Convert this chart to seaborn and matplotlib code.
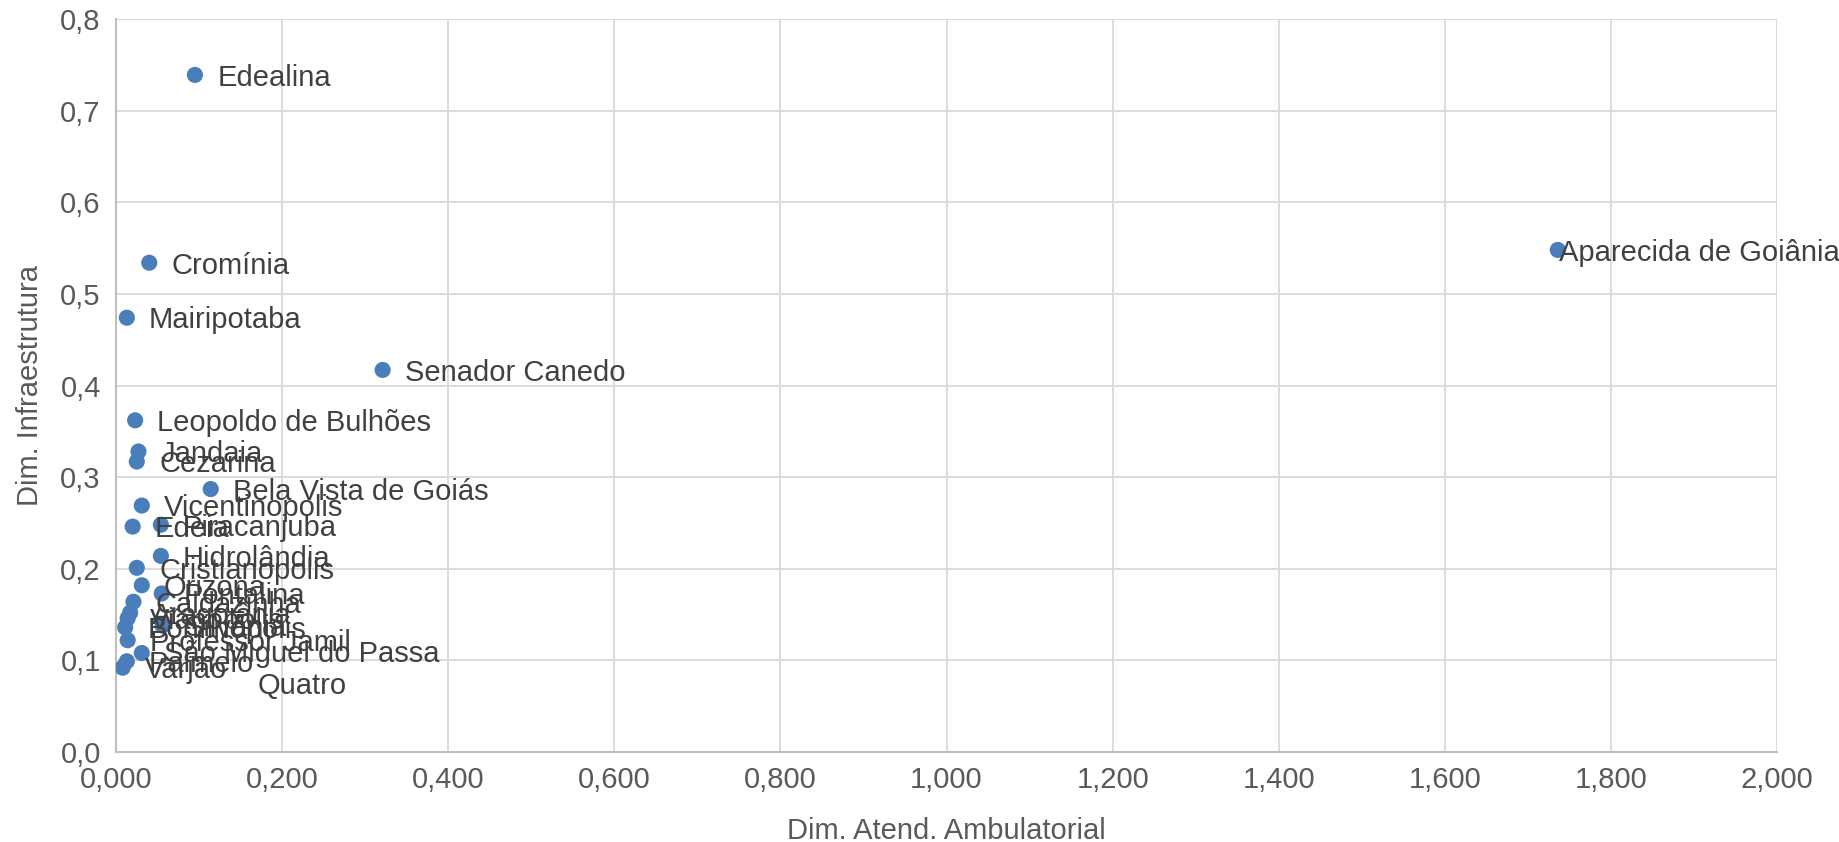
import pandas as pd
import seaborn as sns
import matplotlib.pyplot as plt

# dados
municipios = ["Edealina", "Cromínia", "Mairipotaba", "Senador Canedo", "Aparecida de Goiânia",
              "Leopoldo de Bulhões", "Jandaia", "Cezarina", "Bela Vista de Goiás", "Vicentinopolis",
              "Piracanjuba", "Edeia", "Hidrolândia", "Cristianopolis", "Orizona",
              "Pontalina", "Caldazinha", "Aragoiânia", "Vianópolis", "Silvânia",
              "Bonfinópolis", "Professor Jamil", "São Miguel do Passa\nQuatro", "Palmelo", "Varjão"]
atend_ambulatorial = [0.095, 0.040, 0.013, 0.321, 1.736,
                      0.023, 0.027, 0.025, 0.114, 0.031,
                      0.054, 0.020, 0.054, 0.025, 0.031,
                      0.055, 0.021, 0.017, 0.014, 0.056,
                      0.011, 0.014, 0.031, 0.013, 0.008]
infraestrutura = [0.739, 0.534, 0.474, 0.417, 0.548,
                  0.362, 0.328, 0.317, 0.287, 0.269,
                  0.248, 0.246, 0.214, 0.201, 0.182,
                  0.173, 0.164, 0.152, 0.146, 0.138,
                  0.136, 0.122, 0.108, 0.099, 0.092]

x_ticks = [0.0, 0.2, 0.4, 0.6, 0.8, 1.0, 1.2, 1.4, 1.6, 1.8, 2.0]
y_ticks = [0.0, 0.1, 0.2, 0.3, 0.4, 0.5, 0.6, 0.7, 0.8]

df = pd.DataFrame({"municipio": municipios, "x": atend_ambulatorial, "y": infraestrutura})

sns.set_theme(style="white")
plt.rcParams["font.family"] = ["Liberation Sans", "DejaVu Sans"]

fig = plt.figure(figsize=(18.39, 8.42), dpi=100)
ax = fig.add_axes([0.0631, 0.1069, 0.9032, 0.8705])

sns.scatterplot(data=df, x="x", y="y", ax=ax, color="#4a7ebb", s=135, edgecolor="none", zorder=3)

for _, r in df.iterrows():
    n_lines = r["municipio"].count("\n") + 1
    dx = 16
    if r["x"] > 1.5:
        dx = 1  # rótulo empurrado para dentro, como no Excel
    dy = -2 - (n_lines - 1) * 10.3
    ax.annotate(r["municipio"], (r["x"], r["y"]), xytext=(dx, dy), textcoords="offset points",
                ha="left", va="center", multialignment="center", fontsize=21,
                color="#404040", annotation_clip=False, clip_on=False, zorder=4,
                linespacing=1.17)

ax.set_xlim(0, 2.0)
ax.set_ylim(0, 0.8)
ax.set_xticks(x_ticks)
ax.set_yticks(y_ticks)
ax.set_xticklabels([f"{v:.3f}".replace(".", ",") for v in x_ticks])
ax.set_yticklabels([f"{v:.1f}".replace(".", ",") for v in y_ticks])
ax.tick_params(axis="both", length=0, labelsize=21, labelcolor="#595959")
ax.tick_params(axis="x", pad=10)
ax.tick_params(axis="y", pad=11)
ax.grid(True, color="#d9d9d9", linewidth=1.3)
ax.set_axisbelow(True)

for side in ["top", "right"]:
    ax.spines[side].set_visible(False)
for side in ["left", "bottom"]:
    ax.spines[side].set_color("#bfbfbf")
    ax.spines[side].set_linewidth(1.5)

ax.set_xlabel("Dim. Atend. Ambulatorial", fontsize=21, color="#595959", labelpad=17)
ax.set_ylabel("Dim. Infraestrutura", fontsize=21, color="#595959", labelpad=12)

fig.savefig("out.png", dpi=100)
